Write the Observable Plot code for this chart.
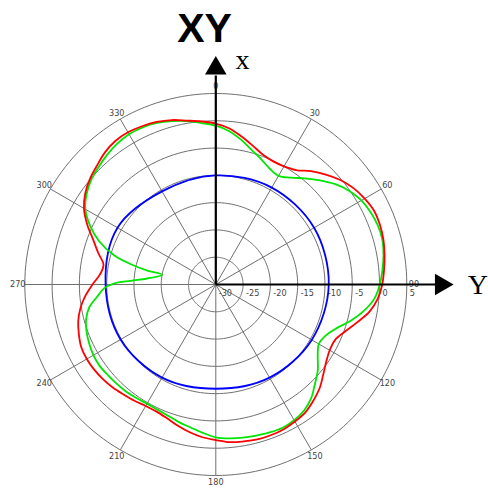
<!DOCTYPE html>
<html><head><meta charset="utf-8">
<script src="https://cdn.jsdelivr.net/npm/d3@7"></script>
<script src="https://cdn.jsdelivr.net/npm/@observablehq/plot@0.6"></script>
<style>body{margin:0;background:#fff}</style>
</head><body><div id="chart"></div>
<script>
// ---- data ----
const title = "XY";
const angleTicks = [0, 30, 60, 90, 120, 150, 180, 210, 240, 270, 300, 330];
const ringLevels = [-25, -20, -15, -10, -5, 0, 5];
const radialLabels = [-30, -25, -20, -15, -10, -5, 0, 5];
const dbMin = -30, dbMax = 5;

const redAngles = d3.range(0, 360, 5);
const redDb = [-0.5,-1.3,-2.5,-3.7,-4.7,-5.1,-5.0,-4.4,-2.9,-1.5,-0.2,0.8,1.5,2.0,2.0,1.8,1.4,0.95,0.5,-0.2,
  -1.4,-3.2,-4.8,-5.9,-5.9,-5.3,-4.3,-3.1,-2.2,-1.4,-1.0,-0.7,-0.6,-0.6,-0.8,-1.0,-1.5,-1.9,-2.5,-3.2,
  -3.9,-4.3,-4.3,-4.0,-3.7,-3.3,-3.0,-2.8,-2.7,-2.8,-3.3,-3.9,-4.8,-6.0,-7.4,-8.7,-9.1,-7.7,-6.1,-4.0,
  -2.1,-0.8,0.1,0.8,1.6,2.1,2.2,2.0,1.7,1.2,0.5,0.0];

const greenAngles = [0,5,10,15,20,25,30,35,40,45,50,55,60,65,70,75,80,85,90,95,100,105,110,115,120,125,130,135,140,145,
  150,155,160,165,170,175,180,185,190,195,200,205,210,215,220,225,230,235,240,245,250,255,260,264,268,270.5,272.5,275,
  280.3,281.5,283.5,286,290.5,295,300,305,310,315,320,325,330,335,340,345,350,355];
const greenDb = [-0.9,-1.8,-3.1,-4.5,-5.6,-6.6,-7.0,-6.1,-4.6,-3.0,-1.4,-0.1,0.8,1.3,1.6,1.6,1.2,0.65,0.05,-0.8,
  -2.4,-4.4,-6.5,-7.8,-8.2,-7.2,-5.6,-4.3,-2.8,-1.8,-1.3,-1.05,-1.15,-1.35,-1.5,-1.7,-2.0,-2.7,-3.4,-3.9,
  -4.4,-4.7,-4.8,-4.6,-4.4,-4.3,-4.2,-4.0,-4.1,-4.4,-4.8,-5.4,-6.5,-8.1,-9.5,-11.3,-14.4,-17.4,
  -20.0,-17.2,-13.9,-10.6,-7.1,-4.6,-2.4,-1.1,-0.2,0.4,1.0,1.5,1.8,1.75,1.5,1.0,0.4,-0.3];

const blueAngles = [0, 30, 60, 90, 120, 150, 180, 210, 240, 270, 300, 330];
const blueDb = [-10.0, -9.5, -9.2, -9.3, -9.7, -10.3, -10.9, -10.3, -9.85, -9.8, -9.2, -10.3];

// ---- geometry helpers ----
const rad = a => a * Math.PI / 180;
const R = db => db - dbMin;               // radial units from centre
const px = a => R0 => R0 * Math.sin(rad(a));
const toPt = (a, db) => ({a, db, x: R(db) * Math.sin(rad(a)), y: R(db) * Math.cos(rad(a))});
const series = (angles, dbs) => angles.map((a, i) => toPt(a, dbs[i]));

const k = 191 / (dbMax - dbMin);   // pixels per dB
const cx = 215.3, cy = 284, W = 488, H = 488;

const rings = ringLevels.flatMap(l => d3.range(0, 360, 2).map(a => ({l, ...toPt(a, l)})));
const outer = R(dbMax);
const labelR = outer + 1.3;

const chart = Plot.plot({
  width: W, height: H, margin: 0,
  x: {domain: [-cx / k, (W - cx) / k], axis: null},
  y: {domain: [-(H - cy) / k, cy / k], axis: null},
  marks: [
    Plot.line(rings, {x: "x", y: "y", z: "l", curve: "linear-closed", stroke: "#707070", strokeWidth: 1}),
    Plot.link(angleTicks, {x1: 0, y1: 0, x2: a => outer * Math.sin(rad(a)), y2: a => outer * Math.cos(rad(a)), stroke: "#707070", strokeWidth: 1}),
    Plot.text(angleTicks, {x: a => labelR * Math.sin(rad(a)), y: a => labelR * Math.cos(rad(a)), text: a => String(a),
      fontSize: 9, fontFamily: "DejaVu Sans Condensed, DejaVu Sans", fill: "#444"}),
    Plot.text(radialLabels, {x: d => R(d), y: 0, text: d => String(d), textAnchor: "start", dx: 3, dy: 9,
      fontSize: 9, fontFamily: "DejaVu Sans Condensed, DejaVu Sans", fill: "#444"}),
    Plot.line(series(blueAngles, blueDb), {x: "x", y: "y", curve: "catmull-rom-closed", stroke: "#0000ff", strokeWidth: 1.8}),
    Plot.line(series(greenAngles, greenDb), {x: "x", y: "y", curve: "catmull-rom-closed", stroke: "#00e600", strokeWidth: 1.8}),
    Plot.line(series(redAngles, redDb), {x: "x", y: "y", curve: "catmull-rom-closed", stroke: "#ff0000", strokeWidth: 1.8}),
    // axes arrows
    Plot.link([0], {x1: 0, y1: 0, x2: 0, y2: 38.3, stroke: "black", strokeWidth: 2.2}),
    Plot.link([0], {x1: 0, y1: 0, x2: 40.2, y2: 0, stroke: "black", strokeWidth: 2.2}),
    Plot.dot([0], {x: 0, y: 39.6, symbol: "triangle", r: 8, fill: "black", stroke: "none"}),
    Plot.dot([0], {x: 41.3, y: 0, symbol: "triangle", r: 8, fill: "black", stroke: "none", rotate: 90}),
    Plot.text(["x"], {x: 4.9, y: 39.4, lineAnchor: "bottom", fontSize: 28, fontFamily: "Liberation Serif", fill: "black"}),
    Plot.text(["Y"], {x: 48.0, y: -1.65, lineAnchor: "bottom", fontSize: 28, fontFamily: "Liberation Serif", fill: "black"}),
    Plot.text([title], {x: -2.07, y: 44.4, lineAnchor: "bottom", fontSize: 41, fontWeight: "bold", fontFamily: "Liberation Sans, Arial", fill: "black"})
  ]
});
document.getElementById("chart").appendChild(chart);
</script>
</body></html>
